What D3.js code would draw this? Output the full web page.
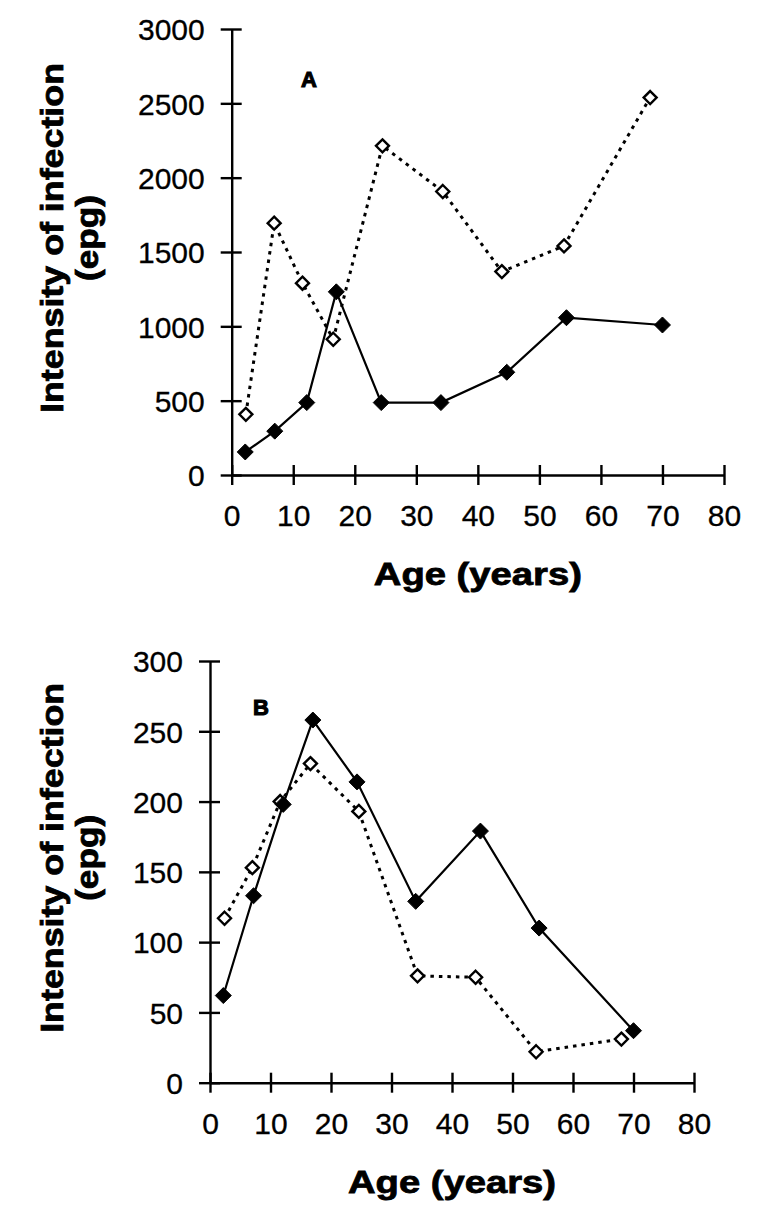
<!DOCTYPE html>
<html><head><meta charset="utf-8">
<script src="https://cdn.jsdelivr.net/npm/d3@7"></script>
<style>
body{margin:0;background:#fff;}
svg{display:block;}
</style></head>
<body>
<svg id="chart" width="770" height="1224"></svg>
<script>
// ---- data ----
const ageA_solid = [2.2, 7, 12.2, 17, 24.3, 34, 44.7, 54.4, 70];
const valA_solid = [155, 295, 487, 1232, 487, 487, 691, 1058, 1009];
const ageA_open  = [2.3, 6.9, 11.5, 16.5, 24.5, 34.3, 43.9, 54, 68];
const valA_open  = [408, 1694, 1290, 913, 2214, 1907, 1368, 1541, 2539];

const ageB_solid = [2.2, 7.2, 12.1, 17, 24.3, 34, 44.7, 54.4, 70];
const valB_solid = [62, 133, 198, 258, 214, 129, 179, 110, 37];
const ageB_open  = [2.4, 7, 11.6, 16.6, 24.6, 34.3, 43.9, 53.9, 68];
const valB_open  = [117, 153, 200, 227, 193, 76, 75, 22, 31];

const xTicks = [0, 10, 20, 30, 40, 50, 60, 70, 80];
const yTicksA = [0, 500, 1000, 1500, 2000, 2500, 3000];
const yTicksB = [0, 50, 100, 150, 200, 250, 300];
const xTitle = "Age (years)";
const yTitle1 = "Intensity of infection";
const yTitle2 = "(epg)";

const svg = d3.select("#chart");
const FONT = "'Liberation Sans', Arial, sans-serif";

function panel(cfg) {
  const x = d3.scaleLinear().domain([0, 80]).range([cfg.x0, cfg.x1]);
  const y = d3.scaleLinear().domain([0, cfg.yMax]).range([cfg.y0, cfg.y1]);
  const g = svg.append("g");

  // y axis
  const ya = g.append("g").attr("transform", `translate(${cfg.x0},0)`)
    .call(d3.axisLeft(y).tickValues(cfg.yTicks).tickFormat(d3.format("d"))
      .tickSize(11).tickSizeOuter(0).tickPadding(16));
  ya.selectAll(".tick line").attr("x1", -11).attr("x2", 10);
  // x axis
  const xa = g.append("g").attr("transform", `translate(0,${cfg.y0})`)
    .call(d3.axisBottom(x).tickValues(xTicks).tickFormat(d3.format("d"))
      .tickSize(10).tickSizeOuter(0).tickPadding(0));
  xa.selectAll(".tick line").attr("y1", -10).attr("y2", 10);
  xa.selectAll(".tick text").attr("dy", null).attr("y", 51);

  [ya, xa].forEach(a => {
    a.selectAll("path.domain").attr("stroke", "#000").attr("stroke-width", 2.4);
    a.selectAll(".tick line").attr("stroke", "#000").attr("stroke-width", 2.4);
    a.selectAll(".tick text").attr("fill", "#000").attr("stroke", "#000").attr("stroke-width", 0.3)
      .style("font-family", FONT).style("font-size", "30px");
  });
  ya.selectAll(".tick text").attr("dy", "0.36em");

  // panel letter
  g.append("text").attr("x", cfg.lx).attr("y", cfg.ly).text(cfg.letter)
    .attr("stroke", "#000").attr("stroke-width", 1.1)
    .style("font-family", FONT).style("font-weight", "bold").style("font-size", "22px");

  // axis titles
  const xc = (cfg.x0 + cfg.x1) / 2;
  g.append("text").attr("x", xc).attr("y", cfg.y0 + 110).attr("text-anchor", "middle")
    .attr("textLength", 208).attr("lengthAdjust", "spacingAndGlyphs")
    .attr("stroke", "#000").attr("stroke-width", 0.8)
    .style("font-family", FONT).style("font-weight", "bold").style("font-size", "32px")
    .text(xTitle);
  const yc = (cfg.y0 + cfg.y1) / 2 - 14;
  g.append("text").attr("transform", `translate(63,${yc}) rotate(-90)`).attr("text-anchor", "middle")
    .attr("textLength", 350).attr("lengthAdjust", "spacingAndGlyphs")
    .attr("stroke", "#000").attr("stroke-width", 0.8)
    .style("font-family", FONT).style("font-weight", "bold").style("font-size", "32px")
    .text(yTitle1);
  g.append("text").attr("transform", `translate(98,${yc}) rotate(-90)`).attr("text-anchor", "middle")
    .attr("textLength", 86).attr("lengthAdjust", "spacingAndGlyphs")
    .attr("stroke", "#000").attr("stroke-width", 0.8)
    .style("font-family", FONT).style("font-weight", "bold").style("font-size", "32px")
    .text(yTitle2);

  const line = d3.line().x(d => x(d[0])).y(d => y(d[1]));
  const open = cfg.openX.map((a, i) => [a, cfg.openY[i]]);
  const solid = cfg.solidX.map((a, i) => [a, cfg.solidY[i]]);

  g.append("path").datum(open).attr("d", line).attr("fill", "none")
    .attr("stroke", "#000").attr("stroke-width", 3).attr("stroke-dasharray", "3.5,5");
  g.append("path").datum(solid).attr("d", line).attr("fill", "none")
    .attr("stroke", "#000").attr("stroke-width", 2.2);

  const diamond = (cx, cy, r) => `M${cx},${cy - r}L${cx + r},${cy}L${cx},${cy + r}L${cx - r},${cy}Z`;
  g.selectAll(".open").data(open).join("path")
    .attr("d", d => diamond(x(d[0]), y(d[1]), 6.5))
    .attr("fill", "#fff").attr("stroke", "#000").attr("stroke-width", 2.4);
  g.selectAll(".solid").data(solid).join("path")
    .attr("d", d => diamond(x(d[0]), y(d[1]), 8))
    .attr("fill", "#000").attr("stroke", "#000").attr("stroke-width", 1);
}

panel({x0: 231.7, x1: 724, y0: 475, y1: 29, yMax: 3000, yTicks: yTicksA,
  letter: "A", lx: 301, ly: 87,
  solidX: ageA_solid, solidY: valA_solid, openX: ageA_open, openY: valA_open});
panel({x0: 210, x1: 694, y0: 1082.7, y1: 661, yMax: 300, yTicks: yTicksB,
  letter: "B", lx: 253, ly: 715,
  solidX: ageB_solid, solidY: valB_solid, openX: ageB_open, openY: valB_open});
</script>
</body></html>
